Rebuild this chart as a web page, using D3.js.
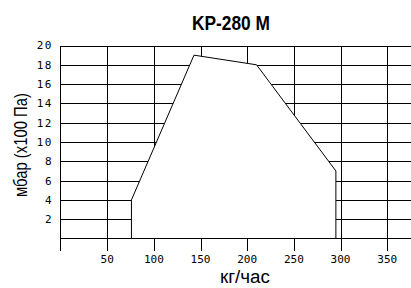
<!DOCTYPE html>
<html>
<head>
<meta charset="utf-8">
<script src="https://cdn.jsdelivr.net/npm/d3@7"></script>
<style>
  body { margin: 0; background: #fff; }
  svg { display: block; }
</style>
</head>
<body>
<div class="main"></div>
<script>
const w = 411;
const h = 288;

// operating field of the burner: flow (kg/h) vs pressure (mbar)
const flow = [76, 76, 143, 210, 295, 295];
const pressure = [0, 4, 19, 18, 7, 0];
const xTicks = [50, 100, 150, 200, 250, 300, 350];
const yTicks = [2, 4, 6, 8, 10, 12, 14, 16, 18, 20];

const svg = d3.select('.main').append('svg').attr('width', w).attr('height', h);

const x = d3.scaleLinear().domain([0, 376]).range([60.5, 411.5]);
const y = d3.scaleLinear().domain([0, 20]).range([238.5, 45.5]);

const grid = svg.append('g').attr('stroke', '#000').attr('stroke-width', 1).attr('shape-rendering', 'crispEdges');

grid.selectAll('line.h')
  .data(yTicks)
  .enter()
  .append('line')
  .attr('class', 'h')
  .attr('x1', x(0))
  .attr('x2', w)
  .attr('y1', d => Math.round(y(d)) + 0.5)
  .attr('y2', d => Math.round(y(d)) + 0.5);

grid.selectAll('line.v')
  .data(xTicks)
  .enter()
  .append('line')
  .attr('class', 'v')
  .attr('x1', d => Math.round(x(d)) + 0.5)
  .attr('x2', d => Math.round(x(d)) + 0.5)
  .attr('y1', y(20))
  .attr('y2', y(0) + 12);

// white field covers the grid
const pts = flow.map((f, i) => [x(f), y(pressure[i])]);
svg.append('path')
  .attr('d', d3.line()(pts) + 'Z')
  .attr('fill', '#fff')
  .attr('stroke', '#000')
  .attr('stroke-width', 1);

// axes
svg.append('line')
  .attr('x1', x(0)).attr('x2', w)
  .attr('y1', y(0)).attr('y2', y(0))
  .attr('stroke', '#000').attr('shape-rendering', 'crispEdges');
svg.append('line')
  .attr('x1', x(0)).attr('x2', x(0))
  .attr('y1', y(20)).attr('y2', y(0) + 12)
  .attr('stroke', '#000').attr('shape-rendering', 'crispEdges');

const tickFont = '"DejaVu Sans Mono", monospace';

svg.append('g').selectAll('text')
  .data(yTicks)
  .enter()
  .append('text')
  .attr('x', 53)
  .attr('y', d => y(d))
  .attr('dy', '0.36em')
  .attr('text-anchor', 'end')
  .attr('font-family', tickFont)
  .attr('font-size', 11)
  .attr('letter-spacing', 1.5)
  .text(d => d);

svg.append('g').selectAll('text')
  .data(xTicks)
  .enter()
  .append('text')
  .attr('x', d => x(d))
  .attr('y', 263)
  .attr('text-anchor', 'middle')
  .attr('font-family', tickFont)
  .attr('font-size', 11)
  .text(d => d);

// title and axis labels
svg.append('text')
  .attr('x', 231)
  .attr('y', 30)
  .attr('text-anchor', 'middle')
  .attr('font-family', '"Liberation Sans", Arial, sans-serif')
  .attr('font-weight', 'bold')
  .attr('font-size', 20)
  .attr('textLength', 78)
  .attr('lengthAdjust', 'spacingAndGlyphs')
  .text('KP-280 M');

svg.append('text')
  .attr('x', 245)
  .attr('y', 283)
  .attr('text-anchor', 'middle')
  .attr('font-family', '"Liberation Sans", Arial, sans-serif')
  .attr('font-size', 18)
  .attr('textLength', 50)
  .attr('lengthAdjust', 'spacingAndGlyphs')
  .text('кг/час');

svg.append('text')
  .attr('transform', 'translate(27,145) rotate(-90)')
  .attr('text-anchor', 'middle')
  .attr('font-family', '"Liberation Sans", Arial, sans-serif')
  .attr('font-size', 18)
  .attr('textLength', 104)
  .attr('lengthAdjust', 'spacingAndGlyphs')
  .text('мбар (x100 Па)');
</script>
</body>
</html>
